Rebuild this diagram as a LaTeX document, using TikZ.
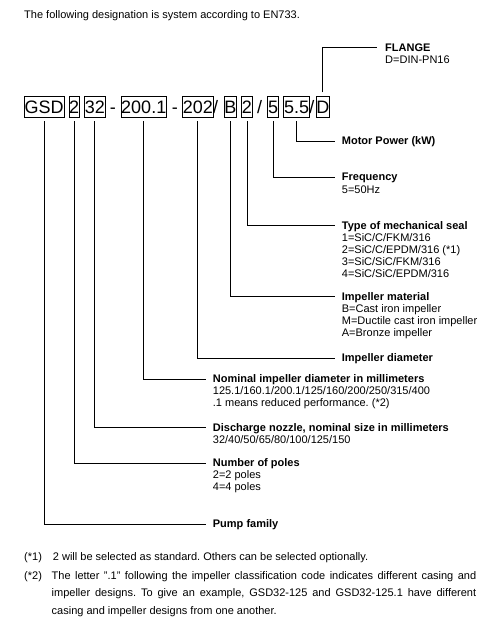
\documentclass[tikz,border=0pt]{standalone}
\usepackage{fontspec}
\setmainfont{Liberation Sans}
\usetikzlibrary{positioning}
\frenchspacing

\begin{document}
\begin{tikzpicture}[
  x=1pt, y=-1pt,
  node distance=5pt,
  code/.style={draw, line width=0.8pt, font=\fontsize{18}{20}\selectfont, outer sep=0pt,
               inner xsep=0.3pt, inner ysep=0.5pt, text height=16.8pt, text depth=3.9pt},
  sep/.style={font=\fontsize{18}{20}\selectfont, inner sep=0pt, outer sep=0pt,
              text height=16.8pt, text depth=3.9pt},
  head/.style={font=\fontsize{11}{12}\selectfont\bfseries, inner sep=0pt,
               text height=8pt, text depth=0.8pt, anchor=west},
  info/.style={font=\fontsize{11}{12}\selectfont, inner sep=0pt, align=left,
               execute at begin node=\strut},
  link/.style={line width=0.8pt, shorten <=3.5pt, shorten >=6.5pt},
  note/.style={font=\fontsize{11}{17.4}\selectfont, inner sep=0pt, anchor=base west}
]
\useasboundingbox (0,0) rectangle (489,633);

\node[note] (title) at (24,18.5) {The following designation is system according to EN733.};

% the designation code
\node[code, anchor=west] (fam) at (24.3,106.8) {GSD};
\node[code, right=of fam] (pol) {2};
\node[code, right=of pol] (noz) {32};
\node[sep, right=4.8pt of noz] (dash1) {-};
\node[code, right=of dash1] (nom) {200.1};
\node[sep, right=5.2pt of nom] (dash2) {-};
\node[code, right=4.8pt of dash2] (dia) {202};
\node[sep, right=0pt of dia] (slash1) {/};
\node[code, right=5.8pt of slash1] (mat) {B};
\node[code, right=of mat] (sea) {2};
\node[sep, right=of sea] (slash2) {/};
\node[code, right=5.5pt of slash2] (frq) {5};
\node[code, right=5.5pt of frq] (pow) {5.5};
\node[sep, right=0pt of pow] (slash3) {/};
\node[code, right=1.5pt of slash3] (fla) {D};

% headings
\node[head] (flahd) at (385,47.7) {FLANGE};
\node[head] (powhd) at (341.7,141) {Motor Power (kW)};
\node[head] (frqhd) at (341.7,177.3) {Frequency};
\node[head] (seahd) at (341.7,225.7) {Type of mechanical seal};
\node[head] (mathd) at (341.7,296.7) {Impeller material};
\node[head] (diahd) at (341.7,358.3) {Impeller diameter};
\node[head] (nomhd) at (212.7,379.3) {Nominal impeller diameter in millimeters};
\node[head] (nozhd) at (212.7,427.7) {Discharge nozzle, nominal size in millimeters};
\node[head] (polhd) at (212.7,463.3) {Number of poles};
\node[head] (famhd) at (212.7,524.3) {Pump family};

% details below the headings
\node[info, below=2.8pt of flahd.south west, anchor=north west] (flainf) {D=DIN-PN16};
\node[info, below=2.8pt of frqhd.south west, anchor=north west] (frqinf) {5=50Hz};
\node[info, below=2.8pt of seahd.south west, anchor=north west] (seainf)
  {1=SiC/C/FKM/316\\2=SiC/C/EPDM/316 (*1)\\3=SiC/SiC/FKM/316\\4=SiC/SiC/EPDM/316};
\node[info, below=2.8pt of mathd.south west, anchor=north west] (matinf)
  {B=Cast iron impeller\\M=Ductile cast iron impeller\\A=Bronze impeller};
\node[info, below=2.8pt of nomhd.south west, anchor=north west] (nominf)
  {125.1/160.1/200.1/125/160/200/250/315/400\\.1 means reduced performance. (*2)};
\node[info, below=2.8pt of nozhd.south west, anchor=north west] (nozinf) {32/40/50/65/80/100/125/150};
\node[info, below=2.8pt of polhd.south west, anchor=north west] (polinf) {2=2 poles\\4=4 poles};

% connectors
\draw[link, shorten >=8.3pt] (fla) |- (flahd);
\draw[link] (pow) |- (powhd);
\draw[link] (frq) |- (frqhd);
\draw[link] (sea) |- (seahd);
\draw[link] (mat) |- (mathd);
\draw[link] (dia) |- (diahd);
\draw[link] (nom) |- (nomhd);
\draw[link] (noz) |- (nozhd);
\draw[link] (pol) |- (polhd);
\draw[link] (fam) |- (famhd);

% footnotes
\node[note] (fn1mark) at (24,560.7) {(*1)};
\node[note] (fn1) at (52.7,560.7) {2 will be selected as standard. Others can be selected optionally.};
\node[note] (fn2mark) at (24,579.3) {(*2)};
\node[note, text width=424.5pt, align=justify] (fn2) at (51.5,579.3)
  {\hyphenpenalty=10000 The letter ".1" following the impeller classification code indicates different casing and\linebreak
   impeller designs. To give an example, GSD32-125 and GSD32-125.1 have different\linebreak
   casing and impeller designs from one another.};
\end{tikzpicture}
\end{document}
